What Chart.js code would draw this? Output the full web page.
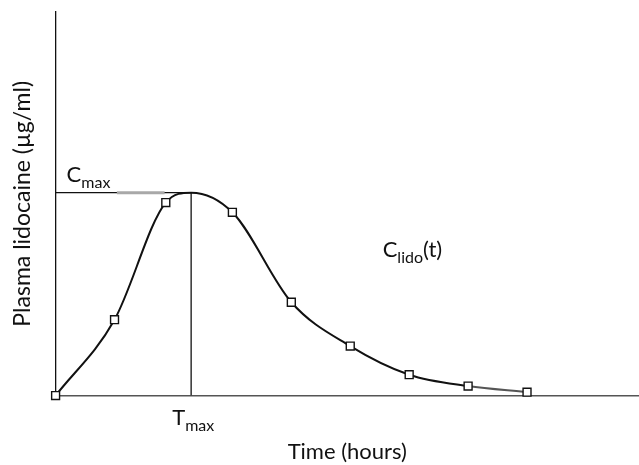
<!DOCTYPE html>
<html>
<head>
<meta charset="utf-8">
<script src="https://cdn.jsdelivr.net/npm/chart.js@4"></script>
<style>
  html, body { margin: 0; padding: 0; background: #fff; }
  canvas { display: block; }
</style>
</head>
<body>
<canvas id="pk" width="639" height="465"></canvas>
<script>
// sampled plasma concentration (relative to Cmax) vs time in hours
const sampleTimes = [0, 1, 1.87, 3, 4, 5, 6, 7, 8];
const sampleConc = [0, 0.374, 0.951, 0.903, 0.46, 0.244, 0.103, 0.047, 0.017];
// peak of the fitted curve (no marker drawn there)
const tMax = 2.3;
const cMax = 1.0;
const xRange = [0, 9.9];
const yRange = [0, 1.89];

const FONT = 'Lato, "Open Sans", sans-serif';

// curve = samples plus the peak, sorted by time
const curve = sampleTimes.map((t, i) => ({ x: t, y: sampleConc[i], sample: true }));
curve.push({ x: tMax, y: cMax, sample: false });
curve.sort((a, b) => a.x - b.x);
const lastIdx = curve.length - 2;

// labels with subscripts, anchored in data space
const subLabels = {
  id: 'subLabels',
  afterDatasetsDraw(chart) {
    const { ctx, scales: { x, y } } = chart;
    const put = (main, sub, tail, px, py) => {
      ctx.save();
      ctx.fillStyle = '#111';
      ctx.textBaseline = 'alphabetic';
      ctx.font = '22px ' + FONT;
      ctx.fillText(main, px, py);
      let w = ctx.measureText(main).width;
      ctx.font = '16px ' + FONT;
      ctx.fillText(sub, px + w, py + 6);
      w += ctx.measureText(sub).width;
      if (tail) {
        ctx.font = '22px ' + FONT;
        ctx.fillText(tail, px + w, py);
      }
      ctx.restore();
    };
    put('C', 'max', '', x.getPixelForValue(0) + 11, y.getPixelForValue(cMax) - 11);
    put('T', 'max', '', x.getPixelForValue(tMax) - 19, y.getPixelForValue(0) + 29);
    put('C', 'lido', '(t)', x.getPixelForValue(5.55), y.getPixelForValue(0.685));
  }
};

new Chart(document.getElementById('pk'), {
  type: 'line',
  data: {
    datasets: [
      {
        // grey patch on the Cmax line, drawn on top
        data: [{ x: 1.04, y: cMax }, { x: 1.85, y: cMax }],
        borderColor: '#a8a8a8', borderWidth: 3, pointRadius: 0, order: -1
      },
      {
        // Cmax reference line
        data: [{ x: 0, y: cMax }, { x: tMax, y: cMax }],
        borderColor: '#111', borderWidth: 1.3, pointRadius: 0, clip: false
      },
      {
        // Tmax reference line
        data: [{ x: tMax, y: 0 }, { x: tMax, y: cMax }],
        borderColor: '#111', borderWidth: 1.3, pointRadius: 0
      },
      {
        data: curve,
        borderColor: '#111',
        borderWidth: 2,
        cubicInterpolationMode: 'monotone',
        segment: { borderColor: c => c.p0DataIndex === lastIdx ? '#555' : undefined },
        pointStyle: 'rect',
        pointRadius: c => (c.raw && c.raw.sample ? 5.6 : 0),
        pointBackgroundColor: '#fff',
        pointBorderColor: '#111',
        pointBorderWidth: 1.4,
        clip: false
      }
    ]
  },
  options: {
    responsive: false,
    animation: false,
    events: [],
    layout: { autoPadding: false, padding: { top: 12, left: 0, right: 0, bottom: 0 } },
    plugins: { legend: { display: false }, tooltip: { enabled: false } },
    scales: {
      x: {
        type: 'linear', min: xRange[0], max: xRange[1],
        grid: { display: false, drawTicks: false },
        ticks: { display: false },
        border: { display: true, color: '#555', width: 1.6 },
        title: {
          display: true, text: 'Time (hours)', color: '#111',
          font: { family: FONT, size: 22, lineHeight: 1.2 },
          padding: { top: 43, bottom: 0 }
        }
      },
      y: {
        min: yRange[0], max: yRange[1],
        grid: { display: false, drawTicks: false },
        ticks: { display: false },
        border: { display: true, color: '#111', width: 1.3 },
        title: {
          display: true, text: 'Plasma lidocaine (µg/ml)', color: '#111',
          font: { family: FONT, size: 23, lineHeight: 1.2 },
          padding: { top: 9, bottom: 19 }
        }
      }
    }
  },
  plugins: [subLabels]
});
</script>
</body>
</html>
